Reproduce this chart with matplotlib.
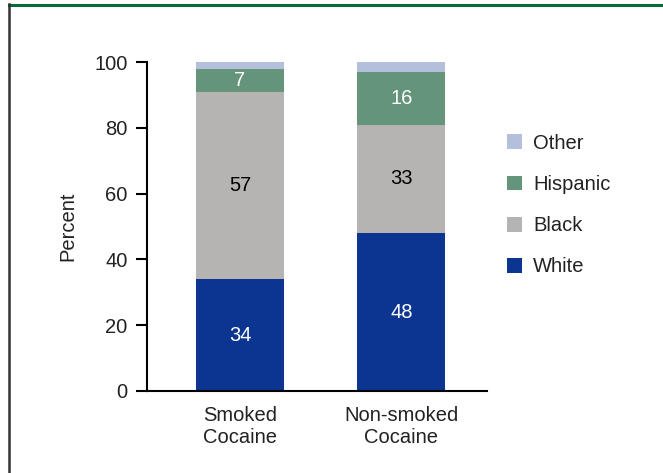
import numpy as np
import matplotlib
matplotlib.use("Agg")
import matplotlib.pyplot as plt
from matplotlib.lines import Line2D

plt.rcParams['font.family'] = ['Liberation Sans', 'DejaVu Sans']

categories = ["Smoked\nCocaine", "Non-smoked\nCocaine"]
groups = ["White", "Black", "Hispanic", "Other"]
white = [34, 48]
black = [57, 33]
hispanic = [7, 16]
other = [2, 3]
colors = ["#0c3592", "#b5b4b2", "#64957a", "#b4bfdc"]
label_colors = ["white", "black", "white", None]

fs = 14.5

fig = plt.figure(figsize=(6.63, 4.73), dpi=100)
ax = fig.add_axes([0.2217, 0.1734, 0.5128, 0.6955])

x = np.arange(len(categories))
bottom = np.zeros(len(categories))
for name, vals, col, lc in zip(groups, [white, black, hispanic, other], colors, label_colors):
    ax.bar(x, vals, width=0.545, bottom=bottom, color=col, label=name)
    if lc is not None:
        for xi, b, v in zip(x, bottom, vals):
            ax.text(xi, b + v / 2, str(v), ha="center", va="center", color=lc, fontsize=fs)
    bottom += np.array(vals)

ax.set_xlim(-0.576, 1.53)
ax.set_ylim(0, 100)
ax.set_yticks([0, 20, 40, 60, 80, 100])
ax.set_xticks(x)
ax.set_xticklabels(categories, fontsize=fs, color="#222222")
ax.tick_params(axis="x", length=0, pad=11)
ax.tick_params(axis="y", labelsize=fs, length=8, width=1.5, colors="black", pad=6)
for lab in ax.get_yticklabels():
    lab.set_color("#222222")
ax.spines["top"].set_visible(False)
ax.spines["right"].set_visible(False)
ax.spines["left"].set_linewidth(1.5)
ax.spines["bottom"].set_linewidth(1.5)
ax.set_ylabel("Percent", fontsize=fs, color="#222222", labelpad=12)

handles, labels = ax.get_legend_handles_labels()
ax.legend(handles[::-1], labels[::-1], loc="center left", bbox_to_anchor=(1.005, 0.565),
          frameon=False, fontsize=fs, handlelength=0.75, handleheight=0.75,
          labelspacing=1.1, handletextpad=0.55, labelcolor="#222222")

# frame lines around the figure
fig.add_artist(Line2D([0.0136, 1.0], [0.990, 0.990], color="#0a6b3a", linewidth=2.2,
                      transform=fig.transFigure))
fig.add_artist(Line2D([0.0136, 0.0136], [0.0, 0.992], color="#333333", linewidth=1.8,
                      transform=fig.transFigure))

fig.savefig("out.png", dpi=100)
